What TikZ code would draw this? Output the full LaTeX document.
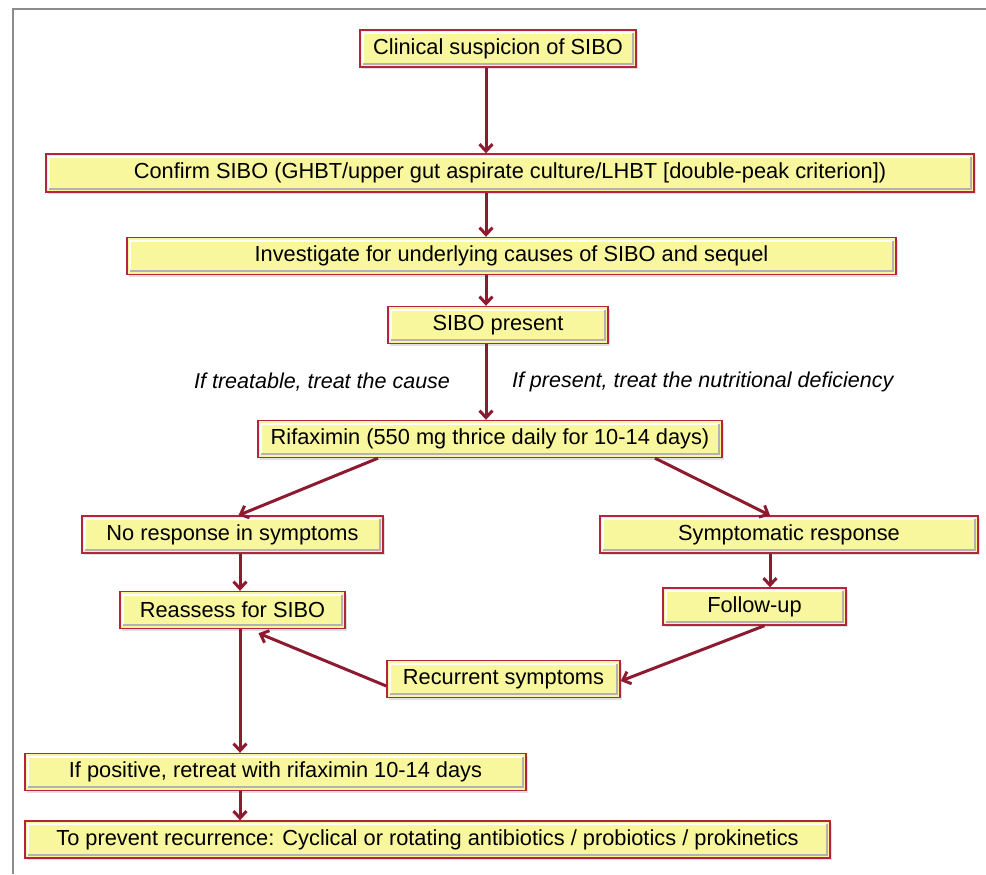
\documentclass[tikz,border=0pt]{standalone}
\usepackage{fontspec}
\setmainfont{Liberation Sans}
\usetikzlibrary{arrows.meta,shadows}
\definecolor{boxred}{HTML}{B3243E}
\definecolor{boxfill}{HTML}{F9F79E}
\definecolor{arrowred}{HTML}{8E1A30}
\tikzset{
>={Straight Barb[length=3.5pt,width=6.5pt]},
every node/.style={font=\fontsize{10.9}{13}\selectfont},
sbox/.style={draw=boxred, fill=boxfill, line width=0.7pt, inner sep=0pt,
  minimum height=18.5pt,
  drop shadow={shadow xshift=1pt, shadow yshift=-1pt, opacity=0.25},
  path picture={
    \draw[-, white, line width=1pt]
      ([shift={(1.6pt,1.6pt)}]path picture bounding box.south west)
      |- ([shift={(-1.6pt,-1.6pt)}]path picture bounding box.north east);
    \draw[-, black!30, line width=1pt]
      ([shift={(1.6pt,1.6pt)}]path picture bounding box.south west)
      -| ([shift={(-1.6pt,-1.6pt)}]path picture bounding box.north east);
  }},
flow/.style={->, draw=arrowred, line width=1.5pt},
note/.style={font=\fontsize{10.75}{13}\selectfont\itshape},
}

\begin{document}
\begin{tikzpicture}[x=0.5pt, y=-0.5pt]
    \useasboundingbox (0,0) rectangle (986,874);
    \draw[-, gray!90, line width=1pt] (13,874) -- (13,9) -- (986,9);

    \node[sbox, minimum width=138pt] (clin) at (498,48.5) {Clinical suspicion of SIBO};
    \node[sbox, minimum width=464pt, minimum height=19pt] (confirm) at (510,173) {Confirm SIBO (GHBT/upper gut aspirate culture/LHBT [double-peak criterion])};
    \node[sbox, minimum width=384.5pt] (invest) at (511.5,256) {Investigate for underlying causes of SIBO and sequel};
    \node[sbox, minimum width=110pt] (present) at (498,325) {SIBO present};
    \node[sbox, minimum width=232pt] (rifax) at (490,439) {Rifaximin (550 mg thrice daily for 10-14 days)};
    \node[sbox, minimum width=150.5pt] (noresp) at (232.5,534.5) {No response in symptoms};
    \node[sbox, minimum width=189pt] (symresp) at (789,534.5) {Symptomatic response};
    \node[sbox, minimum width=112.5pt] (reassess) at (232.5,610) {Reassess for SIBO};
    \node[sbox, minimum width=91.5pt] (follow) at (754.5,606.5) {Follow-up};
    \node[sbox, minimum width=116.5pt] (recur) at (503.5,679) {Recurrent symptoms};
    \node[sbox, minimum width=250.5pt] (retreat) at (275.5,772) {If positive, retreat with rifaximin 10-14 days};
    \node[sbox, minimum width=402.5pt] (prevent) at (427.5,839.5) {To prevent recurrence: Cyclical or rotating antibiotics / probiotics / prokinetics};

    \node[note, anchor=east] (cause) at (457,382) {If treatable, treat the cause};
    \node[note, anchor=west] (nutri) at (505,382) {If present, treat the nutritional deficiency};

    \coordinate (trunk) at (486,0);
    \coordinate (left) at (240,0);
    \coordinate (right) at (770,0);

    \draw[flow] (clin.south -| trunk) -- (confirm.north -| trunk);
    \draw[flow] (confirm.south -| trunk) -- (invest.north -| trunk);
    \draw[flow] (invest.south -| trunk) -- (present.north -| trunk);
    \draw[flow] (present.south -| trunk) -- (rifax.north -| trunk);
    \draw[flow] ([shift={(-112,0)}]rifax.south) -- ([shift={(6,0)}]noresp.north);
    \draw[flow] ([shift={(165,0)}]rifax.south) -- (symresp.north -| right);
    \draw[flow] (noresp.south -| left) -- (reassess.north -| left);
    \draw[flow] (symresp.south -| right) -- (follow.north -| right);
    \draw[flow] ([shift={(10,0)}]follow.south) -- ([shift={(0,2)}]recur.east);
    \draw[flow] ([shift={(0,7)}]recur.west) -- ([shift={(26,4)}]reassess.south);
    \draw[flow] (reassess.south -| left) -- (retreat.north -| left);
    \draw[flow] (retreat.south -| left) -- (prevent.north -| left);
\end{tikzpicture}
\end{document}
